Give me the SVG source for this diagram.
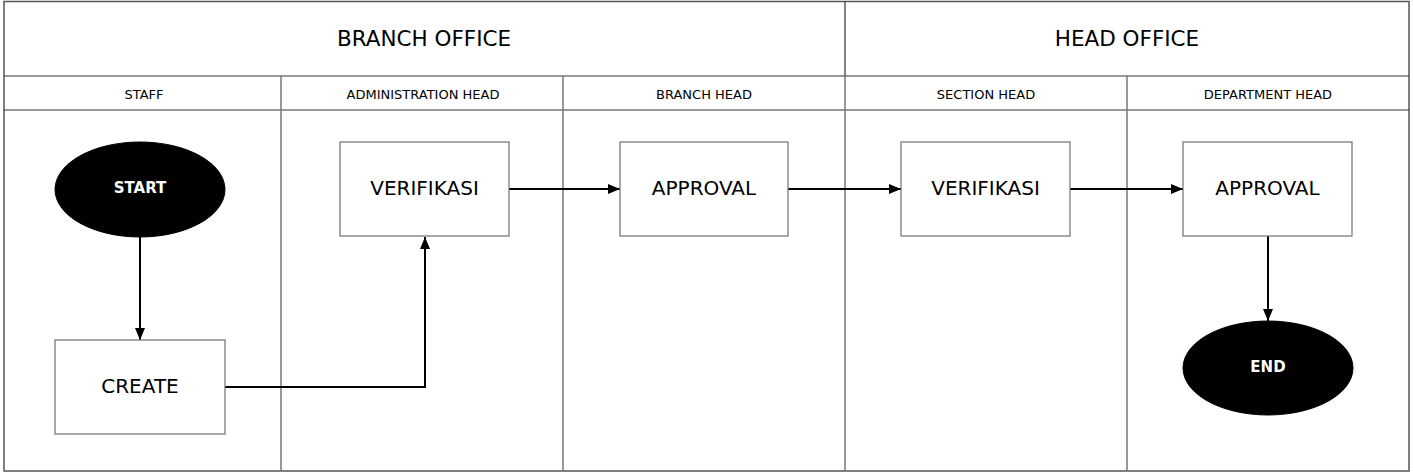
<svg xmlns="http://www.w3.org/2000/svg" width="1413" height="473" viewBox="0 0 1413 473">
<style>
.hdr{font-family:"DejaVu Sans","Noto Sans",sans-serif;font-size:21.5px;fill:#000;text-anchor:middle;dominant-baseline:central}
.sub{font-family:"DejaVu Sans","Noto Sans",sans-serif;font-size:13px;fill:#000;text-anchor:middle;dominant-baseline:central}
.lbl{font-family:"DejaVu Sans","Noto Sans",sans-serif;font-size:20px;fill:#000;text-anchor:middle;dominant-baseline:central}
.term{font-family:"DejaVu Sans","Noto Sans",sans-serif;font-size:15px;font-weight:bold;fill:#fff;text-anchor:middle;dominant-baseline:central}
.box{fill:#fff;stroke:#707070;stroke-width:1.2}
.ell{fill:#000;stroke:#000}
.line{stroke:#333;stroke-width:1.2;fill:none}
.lane{stroke:#777;stroke-width:1.5;fill:none}
.conn{stroke:#000;stroke-width:2;fill:none;marker-end:url(#arr)}
</style>
<defs>
<marker id="arr" viewBox="0 0 12 10" refX="12" refY="5" markerWidth="12" markerHeight="10" markerUnits="userSpaceOnUse" orient="auto">
<path d="M0,0 L12,5 L0,10 Z" fill="#000"/>
</marker>
</defs>
<rect width="1413" height="473" fill="#fff"/>
<g id="pool">
<rect x="4" y="1.5" width="1405" height="469.5" fill="none" stroke="#555" stroke-width="1.5"/>
<line class="line" x1="4" y1="76" x2="1409" y2="76"/>
<line class="line" x1="4" y1="110" x2="1409" y2="110"/>
<line class="line" x1="845" y1="1.5" x2="845" y2="76"/>
<line class="lane" x1="281" y1="76" x2="281" y2="471"/>
<line class="lane" x1="563" y1="76" x2="563" y2="471"/>
<line class="lane" x1="845" y1="76" x2="845" y2="471"/>
<line class="lane" x1="1127" y1="76" x2="1127" y2="471"/>
<text class="hdr" x="424" y="38">BRANCH OFFICE</text>
<text class="hdr" x="1127" y="38">HEAD OFFICE</text>
<text class="sub" x="144" y="94">STAFF</text>
<text class="sub" x="423" y="94">ADMINISTRATION HEAD</text>
<text class="sub" x="704" y="94">BRANCH HEAD</text>
<text class="sub" x="986" y="94">SECTION HEAD</text>
<text class="sub" x="1268" y="94">DEPARTMENT HEAD</text>
</g>
<g id="connectors">
<line class="conn" x1="140" y1="237" x2="140" y2="340"/>
<polyline class="conn" points="225,387 425,387 425,237"/>
<line class="conn" x1="509" y1="189" x2="620" y2="189"/>
<line class="conn" x1="788" y1="189" x2="901" y2="189"/>
<line class="conn" x1="1070" y1="189" x2="1183" y2="189"/>
<line class="conn" x1="1268" y1="236" x2="1268" y2="321"/>
</g>
<g id="start">
<ellipse class="ell" cx="140" cy="189.5" rx="85" ry="47.5"/>
<text class="term" x="140" y="188">START</text>
</g>
<g id="create">
<rect class="box" x="55" y="340" width="170" height="94"/>
<text class="lbl" x="140" y="386">CREATE</text>
</g>
<g id="verifikasi1">
<rect class="box" x="340" y="142" width="169" height="94"/>
<text class="lbl" x="424.5" y="188">VERIFIKASI</text>
</g>
<g id="approval1">
<rect class="box" x="620" y="142" width="168" height="94"/>
<text class="lbl" x="704" y="188">APPROVAL</text>
</g>
<g id="verifikasi2">
<rect class="box" x="901" y="142" width="169" height="94"/>
<text class="lbl" x="985.5" y="188">VERIFIKASI</text>
</g>
<g id="approval2">
<rect class="box" x="1183" y="142" width="169" height="94"/>
<text class="lbl" x="1267.5" y="188">APPROVAL</text>
</g>
<g id="end">
<ellipse class="ell" cx="1268" cy="368" rx="85" ry="47"/>
<text class="term" x="1268" y="367">END</text>
</g>
</svg>
